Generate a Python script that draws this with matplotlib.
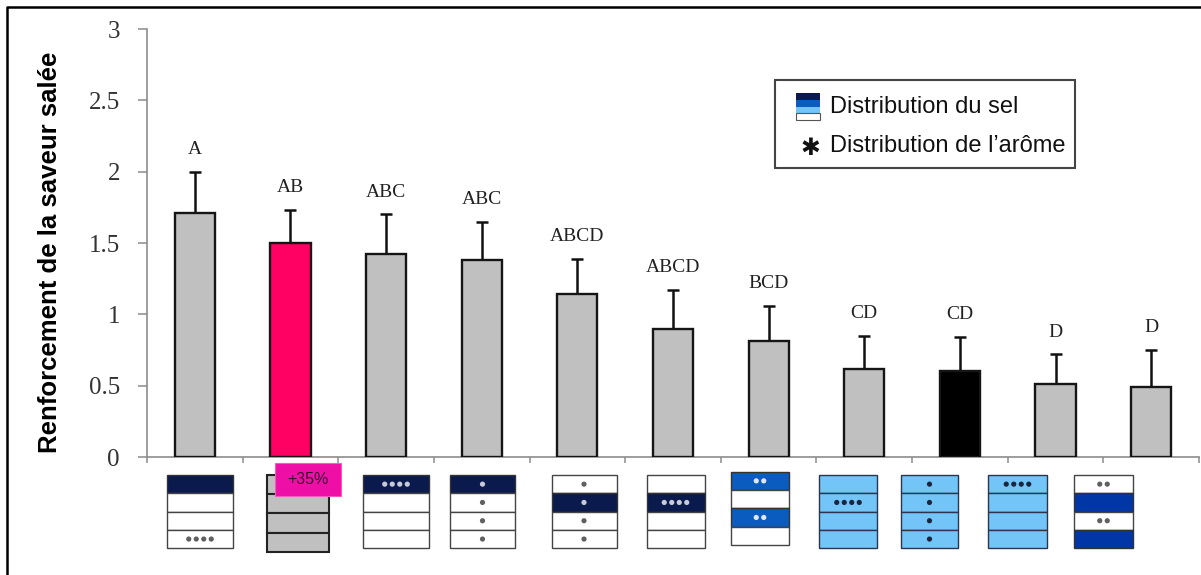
import matplotlib
matplotlib.use('Agg')
import matplotlib.pyplot as plt
from matplotlib.patches import Rectangle
import numpy as np

# ---------------- data ----------------
values = [1.71, 1.50, 1.42, 1.38, 1.14, 0.90, 0.81, 0.62, 0.60, 0.51, 0.49]
errors = [0.29, 0.23, 0.28, 0.27, 0.25, 0.27, 0.25, 0.23, 0.24, 0.21, 0.26]
letters = ['A', 'AB', 'ABC', 'ABC', 'ABCD', 'ABCD', 'BCD', 'CD', 'CD', 'D', 'D']
bar_kinds = ['g', 'p', 'g', 'g', 'g', 'g', 'g', 'g', 'k', 'g', 'g']
# salt distribution per product (4 layers, top to bottom)
salt_layers = [
    ['N', 'W', 'W', 'W'],
    ['G', 'G', 'G', 'G'],
    ['N', 'W', 'W', 'W'],
    ['N', 'W', 'W', 'W'],
    ['W', 'N', 'W', 'W'],
    ['W', 'N', 'W', 'W'],
    ['B', 'W', 'B', 'W'],
    ['L', 'L', 'L', 'L'],
    ['L', 'L', 'L', 'L'],
    ['L', 'L', 'L', 'L'],
    ['W', 'D', 'W', 'D'],
]
# aroma distribution (number of dots per layer)
aroma_layers = [
    [0, 0, 0, 4],
    [0, 0, 0, 0],
    [4, 0, 0, 0],
    [1, 1, 1, 1],
    [1, 1, 1, 1],
    [0, 4, 0, 0],
    [2, 0, 2, 0],
    [0, 4, 0, 0],
    [1, 1, 1, 1],
    [4, 0, 0, 0],
    [2, 0, 2, 0],
]
yticks = [0, 0.5, 1, 1.5, 2, 2.5, 3]
ytick_labels = ['0', '0.5', '1', '1.5', '2', '2.5', '3']
ylabel = 'Renforcement de la saveur salée'
legend_texts = ['Distribution du sel', 'Distribution de l\u2019arôme']
highlight_text = '+35%'

# ---------------- styles ----------------
bar_color_map = {'g': '#c0c0c0', 'p': '#ff0063', 'k': '#000000'}
cell_colors = {'N': '#0b1a4c', 'W': '#ffffff', 'G': '#c0c0c0', 'B': '#0a5cbf',
               'L': '#72c5f6', 'D': '#0036a6'}
dot_colors = {'N': '#c8ccda', 'W': '#606060', 'G': '#333333', 'B': '#e0e8f6',
              'L': '#1a2540', 'D': '#e0e8f6'}
edge_colors = {'N': '#333333', 'W': '#444444', 'G': '#222222', 'B': '#333333',
               'L': '#2a3550', 'D': '#333333'}

W, H = 1201, 575
fig = plt.figure(figsize=(W / 100, H / 100), dpi=100)
fig.patch.set_facecolor('white')

ax = fig.add_axes([147 / W, 1 - 457 / H, 1052 / W, 428 / H])
n = len(values)
x = np.arange(n)
ax.errorbar(x, values, yerr=[np.zeros(n), errors], fmt='none', ecolor='#111111',
            elinewidth=1.8, capsize=4.3, capthick=1.8, zorder=2)
ax.bar(x, values, width=0.42, color=[bar_color_map[k] for k in bar_kinds],
       edgecolor='#151515', linewidth=1.7, zorder=3)

for xi, v, e, lab in zip(x, values, errors, letters):
    ax.annotate(lab, (xi, v + e), xytext=(0, 16), textcoords='offset points',
                ha='center', va='center', fontfamily='Liberation Serif',
                fontsize=14, color='#222222')

ax.set_xlim(-0.5, n - 0.5)
ax.set_ylim(0, 3)
ax.set_yticks(yticks)
ax.set_yticklabels(ytick_labels, fontfamily='Liberation Serif', fontsize=18,
                   color='#333333')
ax.set_xticks(np.arange(-0.5, n, 1.0))
ax.set_xticklabels([])
ax.tick_params(axis='y', direction='out', length=6.5, width=1.1, color='#8c8c8c', pad=13)
ax.tick_params(axis='x', direction='out', length=4.5, width=1.1, color='#8c8c8c')
for s in ['top', 'right']:
    ax.spines[s].set_visible(False)
for s in ['left', 'bottom']:
    ax.spines[s].set_color('#8c8c8c')
    ax.spines[s].set_linewidth(1.2)
ax.patch.set_alpha(0)

fig.text(50 / W, 1 - 252 / H, ylabel, rotation=90, ha='center', va='center',
         fontfamily='Liberation Sans', fontweight='bold', fontsize=18.5, color='#000000')

# ---------------- overlay (pixel coordinates) ----------------
ov = fig.add_axes([0, 0, 1, 1], zorder=5)
ov.set_xlim(0, W)
ov.set_ylim(H, 0)
ov.axis('off')
ov.patch.set_alpha(0)

# outer frame
ov.plot([7, 7, W], [H, 7, 7], color='black', lw=1.8, solid_capstyle='butt')

# legend
ov.add_patch(Rectangle((775, 80), 300, 88, facecolor='white', edgecolor='#444444', lw=1.5))
leg_cols = ['N', 'B', 'L', 'W']
for k, c in enumerate(leg_cols):
    ov.add_patch(Rectangle((796, 93 + k * 6.8), 24, 6.8, facecolor=cell_colors[c],
                           edgecolor='#555555' if c == 'W' else 'none', lw=0.8))
ov.text(830, 107, legend_texts[0], ha='left', va='center', fontfamily='Liberation Sans',
        fontsize=17, color='#111111')
ov.text(810, 148, '\u2731', ha='center', va='center', fontfamily='DejaVu Sans',
        fontsize=17, color='#111111')
ov.text(830, 146, legend_texts[1], ha='left', va='center', fontfamily='Liberation Sans',
        fontsize=17, color='#111111')

# product icons below the axis
icon_cx = [200, 297.5, 396, 482.5, 584, 675.5, 760, 848, 929.5, 1017.5, 1103.5]
icon_w = [66, 62, 66, 65, 65, 58, 58, 58, 57, 59, 59]
icon_top = [475, 475, 475, 475, 475, 475, 471.7, 475, 475, 475, 475]
for i, (layers, dots) in enumerate(zip(salt_layers, aroma_layers)):
    cx, w, top = icon_cx[i], icon_w[i], icon_top[i]
    ch = 19.2 if layers[0] == 'G' else 18.3
    lw = 1.5 if layers[0] == 'G' else 1.0
    for k, (c, nd) in enumerate(zip(layers, dots)):
        y0 = top + k * ch
        ov.add_patch(Rectangle((cx - w / 2, y0), w, ch, facecolor=cell_colors[c],
                               edgecolor=edge_colors[c], lw=lw, zorder=2))
        if nd:
            xs = cx + (np.arange(nd) - (nd - 1) / 2) * 7.5
            ov.scatter(xs, np.full(nd, y0 + ch / 2), s=14, color=dot_colors[c],
                       edgecolors='none', zorder=3)

# "+35%" tag
ov.add_patch(Rectangle((275, 463), 66, 33, facecolor='#ee0fa6', edgecolor='#f35bc0',
                       lw=0.8, zorder=4))
ov.text(308, 479.5, highlight_text, ha='center', va='center', fontfamily='Liberation Sans',
        fontsize=11.5, color='#3a1030', zorder=5)

fig.savefig('out.png', dpi=100)
